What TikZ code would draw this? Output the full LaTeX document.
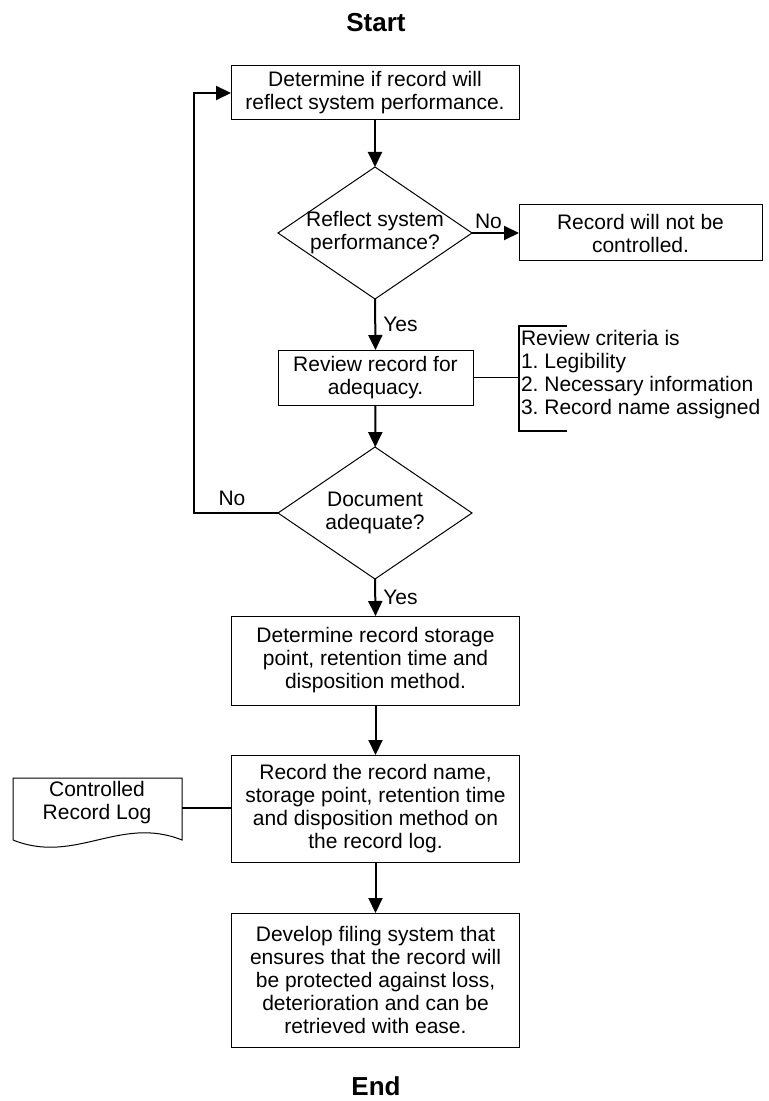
\documentclass[tikz,border=0pt]{standalone}
\usepackage{fontspec}
\setmainfont{Liberation Sans}
\usetikzlibrary{shapes.geometric,arrows.meta}
\frenchspacing

\begin{document}
\begin{tikzpicture}[x=0.5pt,y=-0.5pt,
  every node/.style={font=\fontsize{10.5}{11.5}\selectfont, inner sep=0pt, outer sep=0pt},
  proc/.style={draw, line width=0.5pt, align=center},
  decision/.style={draw, diamond, line width=0.5pt, minimum width=97pt, minimum height=66pt},
  flow/.style={line width=1pt, -{Triangle[length=7.5pt,width=7pt]}},
  link/.style={line width=0.6pt},
  term/.style={font=\fontsize{13}{15}\selectfont\bfseries},
  lbl/.style={font=\fontsize{10.5}{11.5}\selectfont}]

\useasboundingbox (0,0) rectangle (769,1101);

% terminals
\node[term] (start) at (376,23) {Start};
\node[term] (end) at (376,1086) {End};

% main column
\node[proc, minimum width=144pt, minimum height=27pt] (b1) at (375,93)
  {Determine if record will\\reflect system performance.};
\node[decision, label=center:{\parbox{90pt}{\centering Reflect system\\performance?}}] (d1) at (375,233) {};
\node[proc, minimum width=121.5pt, minimum height=28pt] (nc) at (640.5,233)
  {Record will not be\\controlled.};
\node[proc, minimum width=97.5pt, minimum height=27.5pt] (b2) at (375.5,377.5)
  {Review record for\\adequacy.};
\node[decision, label=center:{\parbox{90pt}{\centering Document\\adequate?}}] (d2) at (375,513) {};
\node[proc, minimum width=144pt, minimum height=44.5pt] (b3) at (375.5,660.5)
  {Determine record storage\\point, retention time and\\disposition method.};
\node[proc, minimum width=144pt, minimum height=53.5pt] (b4) at (375.5,808.5)
  {Record the record name,\\storage point, retention time\\and disposition method on\\the record log.};
\node[proc, minimum width=144pt, minimum height=67pt] (b5) at (375.5,980)
  {Develop filing system that\\ensures that the record will\\be protected against loss,\\deterioration and can be\\retrieved with ease.};

% annotation bracket for the review step
\node[anchor=west, align=left] (crit) at (521,375)
  {Review criteria is\\1. Legibility\\2. Necessary information\\3. Record name assigned};
\coordinate (brk) at (519,378);
\draw[link] (567,326) -- (519,326) -- (519,431) -- (567,431);
\draw[link] (b2.east) -- (b2.east -| brk);

% document shape for the log
\draw[line width=0.5pt] (13,778) -- (182,778) -- (182,840)
  .. controls (120,815) and (75,865) .. (13,840) -- cycle;
\node[align=center] (log) at (97,803) {Controlled\\Record Log};
\coordinate (logr) at (182,808);
\draw[link] (logr) -- (logr -| b4.west);

% flow connectors
\draw[flow] (b1) -- (d1);
\draw[flow] (d1.east) -- (nc.west) node[lbl, pos=0.35, above=2pt] {No};
\draw[flow] (d1.south) -- (b2.north) node[lbl, midway, right=4pt] {Yes};
\draw[flow] (b2) -- (d2);
\draw[flow] (d2.west) -- (194,513) |- (b1.west);
\node[lbl] (no2) at (232,498) {No};
\draw[flow] (d2.south) -- (b3.north) node[lbl, midway, right=4pt] {Yes};
\draw[flow] (b3) -- (b4);
\draw[flow] (b4) -- (b5);

\end{tikzpicture}
\end{document}
